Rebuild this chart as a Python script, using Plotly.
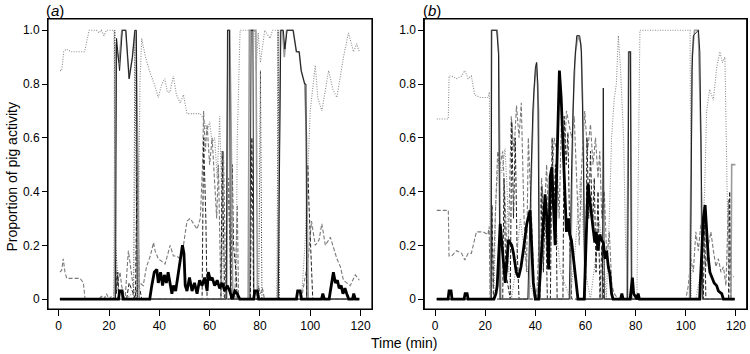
import plotly.graph_objects as go

# ---------------- data: (time in min, proportion) ----------------
# Panel (a)
a_grey_dotted = [(0.5, 0.85), (1.2, 0.85), (2.0, 0.92), (3.0, 0.93), (5.0, 0.92), (10.3, 0.92), (12.1, 1.0), (15, 1.0),
                 (16, 0.99), (17, 1.0), (18, 0.98), (19, 1.0), (22.0, 1.0), (22.4, 0.0), (27, 0.0), (29, 0.02), (31.5, 0.0),
                 (32.3, 0.8), (33.0, 0.97), (34.5, 0.9), (36.4, 0.84), (38, 0.8), (39.6, 0.75), (41, 0.8), (42.2, 0.82),
                 (43.2, 0.77), (44.2, 0.77), (45.6, 0.83), (46.8, 0.76), (48.3, 0.73), (49.6, 0.76), (51, 0.69), (56.3, 0.69),
                 (57.6, 0.67), (59, 0.62), (60, 0.66), (61, 0.58), (62, 0.6), (63, 0.45), (64, 0.68), (65, 0.3), (65.5, 0.0),
                 (70.5, 0.0), (71, 0.6), (72.1, 1.0), (77.9, 1.0), (78.5, 0.85), (79.3, 0.99), (80.2, 0.88), (81.9, 1.0),
                 (84, 0.97), (85, 1.0), (87.2, 1.0), (87.5, 0.0), (96.5, 0.0), (97.9, 0.2), (100, 0.7), (102, 0.87),
                 (103, 0.75), (104.6, 0.7), (107.3, 0.85), (109, 0.78), (110.6, 0.75), (113.2, 0.9), (115.2, 0.99),
                 (117.2, 0.92), (118.5, 0.95), (119.5, 0.92)]
a_grey_dashed = [(0.5, 0.1), (1.2, 0.108), (1.8, 0.15), (2.5, 0.1), (3.2, 0.077), (8.5, 0.077), (9.8, 0.06), (10.5, 0.0),
                 (16, 0.0), (17, 0.01), (18, 0.0), (19, 0.02), (20, 0.0), (21, 0.01), (22.0, 0.0), (22.5, 0.14), (23.2, 0.05),
                 (24.4, 0.1), (25, 0.05), (26.4, 0.0), (27.7, 0.18), (29, 0.09), (30, 0.02), (31, 0.03), (32.3, 0.06),
                 (33.6, 0.05), (34.9, 0.12), (36.4, 0.16), (37.7, 0.21), (38.3, 0.18), (39.6, 0.15), (41, 0.14), (42.3, 0.13),
                 (44.3, 0.2), (45.6, 0.16), (46.9, 0.16), (48.3, 0.15), (49.6, 0.2), (51, 0.29), (52.3, 0.3), (53.7, 0.28),
                 (55, 0.26), (56.3, 0.3), (57.2, 0.5), (57.6, 0.7), (58.3, 0.55), (59, 0.65), (60, 0.5), (61, 0.6),
                 (62, 0.45), (62.8, 0.3), (63.5, 0.5), (64.5, 0.0), (65.5, 0.55), (66.5, 0.0), (67.5, 0.45), (68.5, 0.0),
                 (70, 0.0), (71, 0.35), (71.5, 0.0), (78.5, 0.0), (79.3, 0.05), (80.2, 0.02), (81, 0.04), (81.8, 0.0),
                 (96.5, 0.0), (97.5, 0.05), (99.2, 0.15), (100.5, 0.29), (102, 0.2), (103.5, 0.22), (104.6, 0.28),
                 (106, 0.2), (108, 0.23), (110.6, 0.15), (112, 0.12), (113.2, 0.07), (115.9, 0.05), (117.9, 0.09),
                 (118.6, 0.08), (119.5, 0.07)]
a_black_dashed = [(0.5, 0.0), (22.2, 0.0), (22.5, 0.15), (23, 0.02), (23.5, 0.1), (24, 0.0), (27, 0.0), (28, 0.06),
                  (30.5, 0.0), (31.3, 0.6), (31.6, 0.3), (32, 0.05), (33, 0.0), (57, 0.0), (57.6, 0.6), (58.5, 0.3),
                  (59, 0.0), (64.5, 0.0), (65, 0.55), (65.5, 0.2), (66, 0.0), (68.5, 0.0), (69, 0.5), (69.5, 0.2),
                  (70.5, 0.1), (71, 0.0), (76.2, 0.0), (76.8, 0.6), (77.5, 0.0), (98.6, 0.0), (99, 0.5), (99.5, 0.35),
                  (100.3, 0.15), (101, 0.0), (119.5, 0.0)]
a_black_dotted = [(0.5, 0.0), (22.0, 0.0), (22.3, 1.0), (22.7, 0.2), (23.3, 0.1), (24, 0.0), (29.8, 0.0), (30.3, 1.0),
                  (30.8, 0.4), (31.3, 0.0), (79.5, 0.0), (80.2, 0.85), (80.8, 0.0), (86.8, 0.0), (87.2, 1.0),
                  (87.8, 0.0), (119.5, 0.0)]
a_grey_solid = [(0.5, 0.0), (22.2, 0.0), (22.7, 0.95), (24, 0.88), (25.1, 1.0), (26.6, 1.0), (28, 0.82), (29.3, 0.9),
                (30.3, 1.0), (30.8, 0.95), (31.5, 0.5), (32, 0.0), (66.8, 0.0), (67.3, 1.0), (68, 1.0), (68.6, 0.6),
                (69.2, 0.0), (75.3, 0.0), (75.8, 1.0), (78.4, 1.0), (79, 0.0), (87, 0.0), (88.2, 1.0), (89, 1.0),
                (89.7, 0.9), (90.6, 1.0), (93.2, 1.0), (94.5, 0.92), (95.6, 0.92), (96.4, 0.85), (97.8, 0.8),
                (98.5, 0.6), (99.2, 0.0), (119.5, 0.0)]
a_black_solid = [(0.5, 0.0), (22.6, 0.0), (23.0, 0.97), (24.2, 0.85), (25.3, 1.0), (26.7, 1.0), (28.0, 0.82), (29.3, 0.9),
                 (30.3, 1.0), (30.9, 1.0), (31.2, 0.0), (66.6, 0.0), (67.1, 1.0), (67.9, 1.0), (68.3, 0.0), (76.0, 0.0),
                 (76.5, 1.0), (77.2, 1.0), (77.6, 0.0), (87.3, 0.0), (88.3, 1.0), (89.3, 1.0), (89.9, 0.93), (90.8, 1.0),
                 (93.2, 1.0), (94.5, 0.92), (95.6, 0.92), (96.4, 0.85), (97.8, 0.8), (98.3, 0.8), (98.6, 0.0), (119.5, 0.0)]
a_black_thick = [(0.5, 0.0), (23.8, 0.0), (24.2, 0.03), (25.2, 0.03), (25.6, 0.0), (36.2, 0.0), (37, 0.05), (38, 0.1),
                 (39, 0.11), (39.6, 0.06), (40.5, 0.1), (41.3, 0.05), (42, 0.09), (42.8, 0.06), (43.5, 0.1), (44.3, 0.05),
                 (45, 0.02), (45.6, 0.05), (46.5, 0.03), (47.3, 0.08), (48.3, 0.15), (49.2, 0.2), (49.8, 0.17),
                 (50.3, 0.05), (51, 0.03), (52, 0.08), (53, 0.03), (54, 0.06), (55, 0.02), (56, 0.07), (57, 0.05),
                 (58, 0.08), (59, 0.03), (59.5, 0.1), (60.3, 0.07), (61, 0.08), (62, 0.05), (63, 0.07), (64, 0.04),
                 (65, 0.06), (66, 0.03), (67, 0.05), (68, 0.03), (69, 0.0), (70, 0.03), (71, 0.02), (72, 0.0),
                 (77.5, 0.0), (78, 0.03), (79, 0.03), (79.5, 0.0), (94.5, 0.0), (95, 0.03), (96, 0.03), (96.5, 0.0),
                 (104.5, 0.0), (105, 0.02), (105.6, 0.0), (107.5, 0.0), (108.5, 0.06), (109.2, 0.1), (110, 0.06),
                 (110.8, 0.07), (111.5, 0.04), (112.3, 0.05), (113, 0.02), (113.8, 0.04), (114.5, 0.02), (115.3, 0.0),
                 (116.8, 0.0), (117.3, 0.02), (117.9, 0.0), (119.5, 0.0)]

# Panel (b)
b_grey_dotted = [(0.7, 0.67), (5.3, 0.67), (5.6, 0.83), (6.6, 0.83), (8.6, 0.82), (10.6, 0.83), (11.9, 0.85), (13.2, 0.82),
                 (14.5, 0.83), (15.8, 0.76), (18, 0.75), (21.1, 0.75), (21.7, 0.77), (22.0, 0.0), (23.5, 0.0), (24.2, 0.35),
                 (25.3, 0.52), (26.6, 0.47), (27.9, 0.56), (28.8, 0.4), (29.5, 0.1), (30.5, 0.0), (32, 0.1), (34, 0.3),
                 (36, 0.15), (38, 0.05), (40, 0.0), (42, 0.1), (44, 0.25), (46, 0.4), (48, 0.3), (50, 0.1), (52, 0.05),
                 (54, 0.0), (56, 0.2), (58, 0.45), (60, 0.1), (62, 0.0), (64, 0.15), (65.4, 0.29), (67, 0.2), (68.3, 0.0),
                 (69.5, 0.3), (70.4, 0.6), (71.5, 0.75), (72.3, 0.8), (73.1, 0.98), (74, 0.85), (75.2, 0.6), (76, 0.2),
                 (77, 0.0), (80.5, 0.0), (81.7, 1.0), (90, 1.0), (101.7, 1.0), (102.2, 0.0), (104, 0.0), (106, 0.1),
                 (107.5, 0.4), (108.3, 0.7), (109.5, 0.78), (111, 0.74), (112.3, 0.86), (113.6, 0.92), (114.6, 0.88),
                 (115.6, 0.9), (116.3, 0.5), (117, 0.1), (119.5, 0.08)]
b_grey_dashed = [(0.7, 0.33), (5.3, 0.33), (5.6, 0.16), (6.6, 0.16), (8.6, 0.18), (10.6, 0.17), (11.9, 0.145), (13.2, 0.17),
                 (14.5, 0.17), (16.5, 0.25), (19.1, 0.25), (21.1, 0.24), (21.6, 0.27), (22.0, 0.0), (22.6, 0.35), (23.2, 0.05),
                 (24, 0.3), (25, 0.55), (26, 0.5), (27, 0.55), (28, 0.35), (29, 0.1), (30.4, 0.68), (31.5, 0.55),
                 (32.5, 0.72), (33.5, 0.6), (34.4, 0.73), (35.5, 0.3), (36.5, 0.1), (37.2, 0.6), (38.3, 0.35), (39.5, 0.05),
                 (40.5, 0.0), (41.5, 0.25), (42.5, 0.45), (43.5, 0.3), (44.5, 0.5), (45.5, 0.2), (46.5, 0.4), (47.5, 0.6),
                 (48.5, 0.55), (49.5, 0.3), (50.5, 0.7), (51.5, 0.5), (52.4, 0.7), (53.5, 0.65), (54.5, 0.6), (55.5, 0.68),
                 (56.5, 0.4), (57.5, 0.2), (58.5, 0.5), (59.7, 0.7), (60.8, 0.55), (62, 0.65), (63, 0.5), (64, 0.6),
                 (65, 0.45), (65.7, 0.55), (66.5, 0.3), (67.5, 0.4), (68.5, 0.15), (69.5, 0.25), (70.5, 0.05),
                 (71.5, 0.02), (73, 0.0), (100, 0.0), (101, 0.05), (102, 0.15), (103, 0.1), (104, 0.25), (105, 0.18),
                 (106, 0.28), (107, 0.2), (108, 0.12), (109, 0.2), (110, 0.25), (111, 0.18), (112, 0.12), (113, 0.15),
                 (114, 0.1), (115, 0.12), (116, 0.05), (116.5, 0.2), (117, 0.37), (117.6, 0.0)]
b_black_dashed = [(0.7, 0.0), (22.3, 0.0), (22.7, 0.35), (23.3, 0.0), (27, 0.0), (27.5, 0.45), (28.2, 0.1), (30, 0.0),
                  (30.6, 0.66), (31.3, 0.3), (32, 0.6), (32.7, 0.2), (33.5, 0.0), (42, 0.0), (42.6, 0.42), (43.2, 0.1),
                  (44, 0.38), (44.8, 0.0), (46, 0.0), (46.7, 0.6), (47.3, 0.3), (48, 0.5), (48.7, 0.0), (51, 0.0),
                  (51.5, 0.68), (52.3, 0.5), (53, 0.62), (53.8, 0.2), (54.5, 0.0), (60, 0.0), (60.6, 0.6), (61.3, 0.3),
                  (62, 0.55), (62.8, 0.25), (63.5, 0.45), (64.2, 0.1), (65, 0.4), (65.8, 0.0), (66.5, 0.2), (67.3, 0.0),
                  (107, 0.0), (107.5, 0.3), (108, 0.0), (117, 0.0), (117.5, 0.4), (118, 0.0), (119.5, 0.0)]
b_grey_solid = [(0.7, 0.0), (22.2, 0.0), (22.5, 1.0), (24.8, 1.0), (25.5, 0.9), (26.2, 0.0), (37.5, 0.0), (38.5, 0.5),
                (39.5, 0.78), (40.5, 0.88), (41.3, 0.7), (41.8, 0.0), (54, 0.0), (55, 0.7), (56, 0.92), (57, 0.98),
                (58.2, 0.95), (59, 0.7), (59.9, 0.0), (76.5, 0.0), (77.2, 0.92), (78, 0.92), (78.5, 0.0), (101.5, 0.0),
                (102.5, 0.9), (103.5, 1.0), (105, 1.0), (106, 0.6), (106.5, 0.0), (118.0, 0.0), (118.3, 0.5),
                (119.8, 0.5)]
b_black_solid = [(0.7, 0.0), (22.4, 0.0), (22.6, 1.0), (24.6, 1.0), (25.3, 0.915), (25.9, 0.0), (37, 0.0), (38, 0.4),
                 (39, 0.7), (40, 0.86), (40.5, 0.88), (41, 0.8), (41.6, 0.0), (53.5, 0.0), (54.5, 0.5), (55.5, 0.85),
                 (56.5, 0.98), (57.7, 0.98), (58.4, 0.92), (59.2, 0.5), (59.7, 0.0), (66.7, 0.0), (67.1, 0.785),
                 (67.5, 0.0), (76.8, 0.0), (77.3, 0.92), (77.9, 0.92), (78.3, 0.0), (101.8, 0.0), (102.5, 0.85),
                 (103, 0.98), (105, 1.0), (105.6, 0.92), (106.3, 0.4), (106.8, 0.0), (119.5, 0.0)]
b_black_thick = [(0.7, 0.0), (5.2, 0.0), (5.6, 0.03), (6.4, 0.03), (6.8, 0.0), (11.6, 0.0), (12, 0.02), (12.8, 0.02),
                 (13.2, 0.0), (23.5, 0.0), (24.3, 0.02), (24.8, 0.05), (26, 0.28), (26.8, 0.18), (28, 0.06), (29.3, 0.22),
                 (30.6, 0.2), (31.3, 0.17), (32.4, 0.1), (33.3, 0.08), (34.3, 0.12), (35.2, 0.18), (36.6, 0.28),
                 (37.9, 0.33), (38.6, 0.2), (39.2, 0.06), (40, 0.0), (41.3, 0.0), (42, 0.1), (42.6, 0.18), (43.3, 0.3),
                 (43.9, 0.39), (44.6, 0.3), (45.3, 0.11), (45.9, 0.455), (46.6, 0.49), (47.2, 0.35), (47.9, 0.2),
                 (48.6, 0.5), (49.2, 0.8), (49.6, 0.85), (50.3, 0.75), (51.1, 0.55), (51.7, 0.4), (52.4, 0.25),
                 (53.1, 0.3), (53.7, 0.24), (54.4, 0.22), (55, 0.17), (55.6, 0.1), (56.3, 0.05), (57, 0.0), (59.5, 0.0),
                 (60, 0.15), (60.5, 0.35), (61, 0.43), (61.7, 0.37), (62.4, 0.31), (63, 0.25), (63.7, 0.21), (64.3, 0.25),
                 (65, 0.18), (65.7, 0.24), (66.4, 0.22), (67.1, 0.21), (67.8, 0.15), (68.4, 0.18), (69.1, 0.12),
                 (69.7, 0.095), (70.4, 0.02), (71, 0.0), (74, 0.0), (74.5, 0.02), (75, 0.0), (77.8, 0.0), (78.3, 0.05),
                 (78.7, 0.08), (79.2, 0.02), (80.5, 0.0), (81, 0.02), (81.5, 0.0), (105.5, 0.0), (106.3, 0.15),
                 (107, 0.3), (107.7, 0.35), (108.3, 0.25), (109, 0.15), (109.6, 0.1), (110.5, 0.08), (111.3, 0.06),
                 (112.3, 0.05), (113, 0.03), (114.3, 0.02), (115, 0.0), (119.5, 0.0)]

x_ticks = [0, 20, 40, 60, 80, 100, 120]
y_ticks = [0, 0.2, 0.4, 0.6, 0.8, 1.0]
y_tick_labels = ["0", "0.2", "0.4", "0.6", "0.8", "1.0"]
panel_labels = ["(<i>a</i>)", "(<i>b</i>)"]
x_title = "Time (min)"
y_title = "Proportion of pig activity"

# ---------------- figure ----------------
W, H = 750, 354
FONT = "Liberation Sans, Arial, Helvetica, sans-serif"
fig = go.Figure()

styles = [
    ("grey_dotted", dict(color="#8c8c8c", width=1.1, dash="1px,1.5px")),
    ("grey_dashed", dict(color="#7a7a7a", width=1.1, dash="4px,2px")),
    ("black_dashed", dict(color="#222222", width=1.0, dash="4px,2px")),
    ("black_dotted", dict(color="#333333", width=1.0, dash="1px,1.5px")),
    ("grey_solid", dict(color="#9a9a9a", width=1.6, dash="solid")),
    ("black_solid", dict(color="#111111", width=0.9, dash="solid")),
    ("black_thick", dict(color="#000000", width=2.8, dash="solid")),
]
panels = {
    ("x", "y"): dict(grey_dotted=a_grey_dotted, grey_dashed=a_grey_dashed, black_dashed=a_black_dashed,
                     black_dotted=a_black_dotted, grey_solid=a_grey_solid, black_solid=a_black_solid,
                     black_thick=a_black_thick),
    ("x2", "y2"): dict(grey_dotted=b_grey_dotted, grey_dashed=b_grey_dashed, black_dashed=b_black_dashed,
                       grey_solid=b_grey_solid, black_solid=b_black_solid, black_thick=b_black_thick),
}
for (xa, ya), series in panels.items():
    for name, line in styles:
        if name not in series:
            continue
        pts = series[name]
        fig.add_trace(go.Scatter(x=[p[0] for p in pts], y=[p[1] for p in pts], mode="lines",
                                 xaxis=xa, yaxis=ya, line=line, showlegend=False, hoverinfo="skip"))

ydom = [(H - 309) / H, (H - 19) / H]
common_x = dict(tickvals=x_ticks, ticks="outside", ticklen=6, tickwidth=1, tickcolor="black",
                showline=True, mirror=True, linecolor="black", linewidth=1, showgrid=False, zeroline=False,
                tickfont=dict(family=FONT, size=12, color="black"))
common_y = dict(tickvals=y_ticks, ticktext=y_tick_labels, ticks="outside", ticklen=5, tickwidth=1, tickcolor="black",
                showline=True, mirror=True, linecolor="black", linewidth=1, showgrid=False, zeroline=False,
                tickfont=dict(family=FONT, size=12, color="black"), range=[-0.037, 1.042], domain=ydom)


def ann(text, px, py, size, angle=0):
    return dict(text=text, x=px / W, y=1 - py / H, xref="paper", yref="paper", showarrow=False,
                xanchor="center", yanchor="middle", textangle=angle,
                font=dict(family=FONT, size=size, color="black"))


def box(x0px, x1px):
    # frame of a panel drawn in paper coordinates (top, right, bottom, left)
    y0, y1 = ydom
    return dict(type="rect", xref="paper", yref="paper", x0=x0px / W, x1=x1px / W, y0=y0, y1=y1,
                line=dict(color="black", width=1.2), layer="above")


fig.update_layout(
    width=W, height=H, margin=dict(l=0, r=0, t=0, b=0), showlegend=False,
    paper_bgcolor="white", plot_bgcolor="white",
    xaxis=dict(domain=[48 / W, 372 / W], range=[-4.25, 124.55], anchor="y", **common_x),
    yaxis=dict(anchor="x", **common_y),
    xaxis2=dict(domain=[424.3 / W, 746.7 / W], range=[-4.27, 124.28], anchor="y2", **common_x),
    yaxis2=dict(anchor="x2", **common_y),
    annotations=[
        ann(y_title, 12, 177.5, 14, -90),
        ann(x_title, 404, 343, 14),
        ann(panel_labels[0], 55, 11, 15),
        ann(panel_labels[1], 432, 11, 15),
    ],
    shapes=[box(48, 372), box(424.3, 746.7)],
)
fig.write_html("out.html", config={"displayModeBar": False},
               post_script="document.body.style.margin='0';document.body.style.padding='0';")
